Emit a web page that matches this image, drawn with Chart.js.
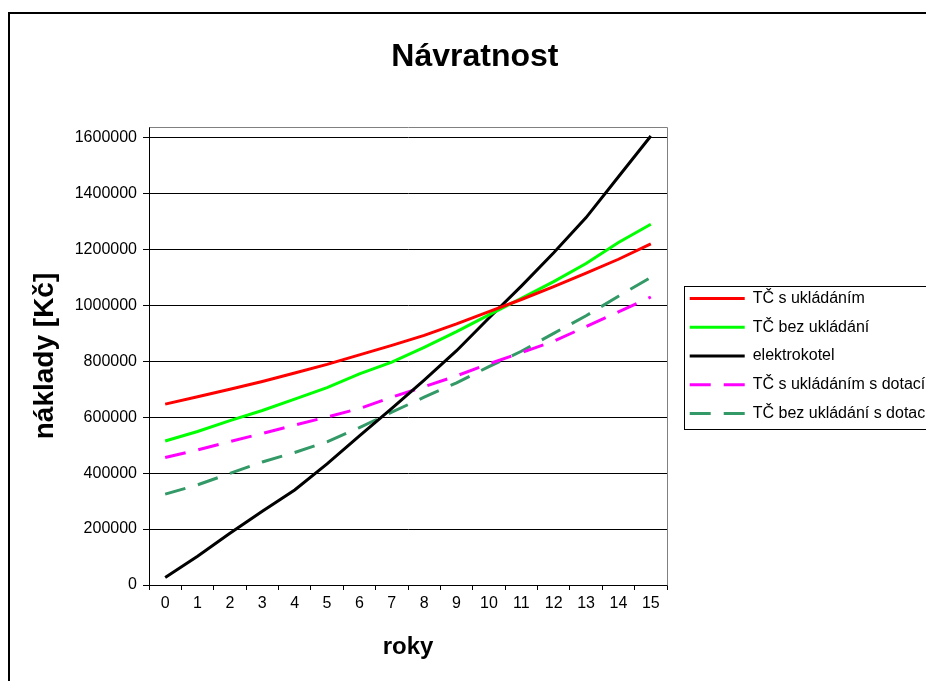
<!DOCTYPE html>
<html>
<head>
<meta charset="utf-8">
<script src="https://cdn.jsdelivr.net/npm/chart.js@4/dist/chart.umd.min.js"></script>
<style>
html,body{margin:0;padding:0;overflow:hidden;background:#fff}
canvas{display:block}
</style>
</head>
<body>
<canvas id="c" width="960" height="700"></canvas>
<script>
// ---- data ----
const years = ['0','1','2','3','4','5','6','7','8','9','10','11','12','13','14','15'];
const seriesNames = ['TČ s ukládáním','TČ bez ukládání','elektrokotel','TČ s ukládáním s dotací','TČ bez ukládání s dotací'];
const tcUkladani        = [647000,673000,700000,728000,758000,789000,823000,857000,893000,934000,978000,1021000,1067000,1115000,1165000,1220000];
const tcBezUkladani     = [515000,549000,588000,624000,665000,706000,755000,797000,850000,906000,966000,1025000,1085000,1150000,1225000,1290000];
const elektrokotel      = [27000,103000,185000,264000,340000,433000,533000,632000,733000,838000,955000,1069000,1188000,1314000,1460000,1606000];
const tcUkladaniDotace  = [456000,483000,513000,542000,572000,601000,631000,672000,709000,748000,791000,831000,872000,924000,977000,1030000];
const tcBezDotace       = [325000,358000,399000,440000,474000,512000,563000,618000,672000,723000,781000,836000,900000,963000,1033000,1100000];
const yTicks = [0,200000,400000,600000,800000,1000000,1200000,1400000,1600000];
const yMax = 1638000;
const chartTitle = 'Návratnost';
const xTitle = 'roky';
const yTitle = 'náklady [Kč]';

Chart.defaults.font.family = '"Liberation Sans", Arial, sans-serif';
Chart.defaults.color = '#000';

const framePlugin = {
  id: 'frame',
  beforeDraw(chart) {
    const ctx = chart.ctx;
    ctx.save();
    ctx.fillStyle = '#fff';
    ctx.fillRect(0, 0, chart.width, chart.height);
    ctx.restore();
  },
  afterLayout(chart) {
    const lg = chart.legend;
    lg.left += 10; lg.right += 10;
  },
  beforeDatasetsDraw(chart) {
    const {ctx, chartArea: a} = chart;
    const al = v => Math.round(v - 0.5) + 0.5;
    ctx.save();
    ctx.strokeStyle = '#808080';
    ctx.lineWidth = 1;
    ctx.beginPath();
    ctx.moveTo(al(a.left), al(a.top));
    ctx.lineTo(al(a.right), al(a.top));
    ctx.lineTo(al(a.right), al(a.bottom));
    ctx.stroke();
    ctx.restore();
  },
  afterDraw(chart) {
    const ctx = chart.ctx;
    ctx.save();
    ctx.strokeStyle = '#000';
    ctx.lineWidth = 2;
    ctx.strokeRect(9, 13, chart.width + 20, chart.height + 20);
    const hb = chart.legend.legendHitBoxes;
    if (hb && hb.length) {
      const x0 = Math.round(hb[0].left - 6) + 0.5;
      const y0 = Math.round(hb[0].top - 5) + 0.5;
      const y1 = Math.round(hb[hb.length - 1].top + 24) + 0.5;
      ctx.lineWidth = 1;
      ctx.strokeRect(x0, y0, 400, y1 - y0);
    }
    ctx.restore();
  }
};

const mk = (label, data, color, dash) => ({
  label, data,
  borderColor: color, backgroundColor: color,
  borderWidth: 3, pointRadius: 0, pointHoverRadius: 0,
  pointBorderWidth: 3, pointBorderColor: color,
  tension: 0, fill: false, borderCapStyle: 'butt',
  borderDash: dash || []
});

new Chart(document.getElementById('c'), {
  type: 'line',
  data: {
    labels: years,
    datasets: [
      mk(seriesNames[0], tcUkladani, '#FF0000'),
      mk(seriesNames[1], tcBezUkladani, '#00FF00'),
      mk(seriesNames[2], elektrokotel, '#000000'),
      mk(seriesNames[3], tcUkladaniDotace, '#FF00FF', [21, 13]),
      mk(seriesNames[4], tcBezDotace, '#339966', [21, 13])
    ]
  },
  options: {
    responsive: false,
    animation: false,
    events: [],
    layout: { padding: { left: 20, right: 30.3, top: 14, bottom: 10 } },
    plugins: {
      title: {
        display: true, text: chartTitle,
        font: { size: 32, weight: 'bold' },
        color: '#000',
        padding: { top: 24, bottom: 50.6 }
      },
      legend: {
        display: true, position: 'right', align: 'center', fullSize: false,
        maxWidth: 320,
        labels: {
          usePointStyle: true, pointStyle: 'line', pointStyleWidth: 55,
          padding: 12.7, color: '#000',
          font: { size: 16 },
          generateLabels(chart) {
            const items = Chart.defaults.plugins.legend.labels.generateLabels(chart);
            items.forEach((it) => {
              const ds = chart.data.datasets[it.datasetIndex];
              it.pointStyle = 'line';
              it.strokeStyle = ds.borderColor;
              it.fillStyle = ds.borderColor;
              it.lineWidth = ds.borderWidth;
              it.lineDash = ds.borderDash;
              it.lineCap = 'butt';
            });
            return items;
          }
        }
      },
      tooltip: { enabled: false }
    },
    scales: {
      x: {
        type: 'category', offset: true,
        grid: { offset: true, drawOnChartArea: false, drawTicks: true, tickLength: 5, color: '#000' },
        border: { display: true, color: '#000', width: 1 },
        ticks: { padding: 4.4, font: { size: 16 }, color: '#000', maxRotation: 0, autoSkip: false },
        title: { display: true, text: xTitle, font: { size: 24, weight: 'bold' }, color: '#000', padding: { top: 0, bottom: 27.9 } },
        afterFit(scale) { scale.height = 105; }
      },
      y: {
        min: 0, max: yMax,
        grid: { color: '#000', drawTicks: true, tickLength: 6, lineWidth: 1 },
        border: { display: true, color: '#000', width: 1 },
        ticks: { padding: 6, font: { size: 16 }, color: '#000', callback: v => String(v) },
        afterBuildTicks(scale) { scale.ticks = yTicks.map(v => ({ value: v })); },
        title: { display: true, text: yTitle, font: { size: 28, weight: 'bold' }, color: '#000', padding: { top: 8.2, bottom: 0 } },
        afterFit(scale) { scale.width = 129; }
      }
    }
  },
  plugins: [framePlugin]
});
</script>
</body>
</html>
